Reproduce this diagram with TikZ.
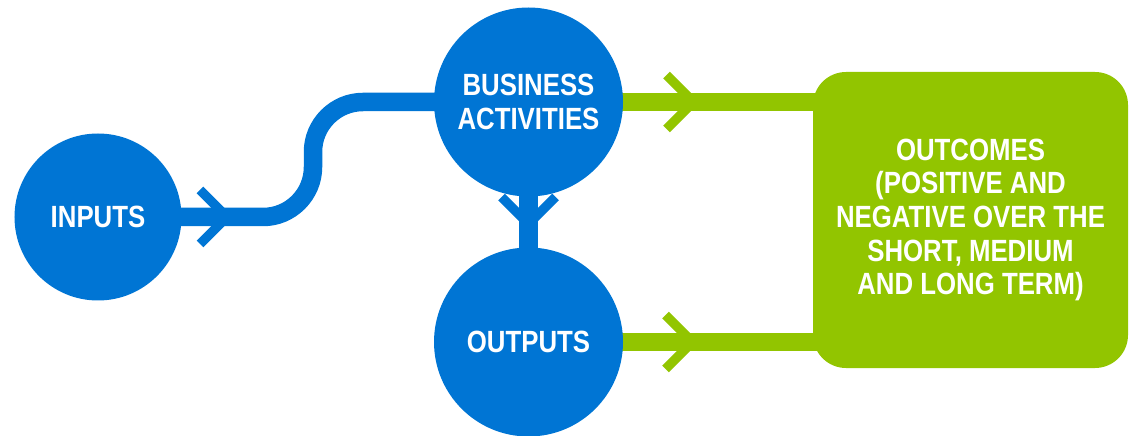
\documentclass[tikz,border=0pt]{standalone}
\usepackage{fontspec}
\setmainfont{Liberation Sans}[FakeStretch=0.84]
\usetikzlibrary{backgrounds,decorations.markings}
\definecolor{ablue}{RGB}{0,117,212}
\definecolor{agreen}{RGB}{146,197,0}
\tikzset{
  lbl/.style={text=white, font=\bfseries\fontsize{30.7bp}{33.7bp}\selectfont, align=center},
  circ/.style={circle, fill=ablue, minimum size=#1, inner sep=0pt, lbl},
  outbox/.style={rectangle, fill=agreen, rounded corners=33bp, minimum width=315bp, minimum height=296bp, inner sep=0pt, lbl},
  conn/.style={line width=18.5bp, color=#1},
  chevat/.style 2 args={postaction={decorate}, decoration={markings,
     mark=at position #1 with {\draw[sharp corners, line width=9.5bp, color=#2, miter limit=10]
       (-27bp,27bp) -- (0bp,0bp) -- (-27bp,-27bp);}}}
}
\begin{document}
\begin{tikzpicture}[x=1bp,y=-1bp]
\useasboundingbox (0,0) rectangle (1132,436);
\node[circ=167bp] (inp) at (98,217) {INPUTS};
\node[circ=189bp] (bus) at (528.5,102) {BUSINESS\\ACTIVITIES};
\node[circ=189bp] (out) at (528.5,342) {OUTPUTS};
\node[outbox] (box) at (970.5,220) {OUTCOMES\\(POSITIVE AND\\NEGATIVE OVER THE\\SHORT, MEDIUM\\AND LONG TERM)};
\coordinate (s1) at (313,217);
\coordinate (s2) at (313,102);
\begin{scope}[on background layer]
  \draw[conn=ablue, rounded corners=50bp, chevat={129bp}{ablue}] (inp.center) -- (s1) -- (s2) -- (bus.center);
  \draw[conn=ablue, chevat={122bp}{ablue}] (bus.center) -- (out.center);
  \draw[conn=agreen, chevat={165bp}{agreen}] (bus.center) -- (bus.center -| box.center);
  \draw[conn=agreen, chevat={164bp}{agreen}] (out.center) -- (out.center -| box.center);
\end{scope}
\end{tikzpicture}
\end{document}
